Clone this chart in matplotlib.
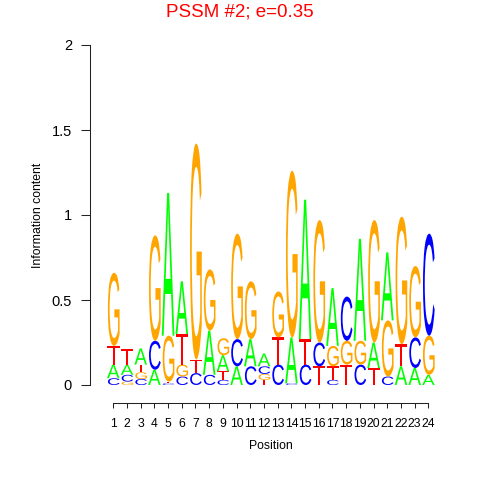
import matplotlib
matplotlib.use("Agg")
import matplotlib.pyplot as plt
from matplotlib.textpath import TextPath
from matplotlib.patches import PathPatch
from matplotlib.font_manager import FontProperties
from matplotlib.path import Path
import numpy as np

positions = list(range(1, 25))
A = [0.08, 0.06, 0.095, 0.09, 0.84, 0.31, 0.0, 0.26, 0.095, 0.11, 0.16, 0.075,
     0.0, 0.27, 0.82, 0.0, 0.34, 0.0, 0.60, 0.15, 0.40, 0.11, 0.10, 0.06]
C = [0.04, 0.04, 0.035, 0.17, 0.01, 0.05, 0.07, 0.06, 0.03, 0.16, 0.11, 0.045,
     0.12, 0.01, 0.12, 0.14, 0.03, 0.26, 0.12, 0.0, 0.05, 0.0, 0.18, 0.60]
G = [0.43, 0.02, 0.04, 0.62, 0.27, 0.07, 1.27, 0.36, 0.10, 0.62, 0.34, 0.035,
     0.27, 0.98, 0.0, 0.72, 0.12, 0.14, 0.14, 0.72, 0.33, 0.75, 0.42, 0.23]
T = [0.11, 0.09, 0.045, 0.0, 0.01, 0.18, 0.08, 0.0, 0.05, 0.0, 0.0, 0.03,
     0.16, 0.0, 0.15, 0.11, 0.08, 0.12, 0.0, 0.10, 0.0, 0.13, 0.0, 0.0]
yticks = [0, 0.5, 1, 1.5, 2]
ytick_labels = ["0", "0.5", "1", "1.5", "2"]
title = "PSSM #2; e=0.35"

colors = {"A": "#00FF00", "C": "#0000FF", "G": "#FFA500", "T": "#FF0000"}
heights = {"A": A, "C": C, "G": G, "T": T}

W = 480
fig = plt.figure(figsize=(4.8, 4.8), dpi=100)
ax = fig.add_axes([90 / W, 95 / W, 350 / W, 340 / W])
ax.set_xlim(-0.70, 24.85)
ax.set_ylim(0, 2)
for s in ["top", "right", "bottom"]:
    ax.spines[s].set_visible(False)
ax.spines["left"].set_linewidth(0.75)
ax.spines["left"].set_color("#222222")
ax.set_xticks([])
ax.set_yticks(yticks)
ax.set_yticklabels(ytick_labels, family="Liberation Sans")
ax.tick_params(axis="y", length=6.5, width=0.75, pad=6.5, labelsize=10.5, color="#222222")

fp = FontProperties(family="Liberation Sans", weight="normal")
glyphs = {}
for ch in "ACGT":
    tp = TextPath((0, 0), ch, size=1, prop=fp)
    v = tp.vertices
    glyphs[ch] = (tp, v[:, 0].min(), v[:, 0].max(), v[:, 1].min(), v[:, 1].max())

lw = 0.92
for i, p in enumerate(positions):
    items = sorted([(heights[ch][i], ch) for ch in "ACGT" if heights[ch][i] > 0])
    y0 = 0.0
    for h, ch in items:
        tp, x0g, x1g, y0g, y1g = glyphs[ch]
        v = tp.vertices.copy()
        v[:, 0] = (v[:, 0] - x0g) / (x1g - x0g) * lw + (p - lw / 2)
        v[:, 1] = (v[:, 1] - y0g) / (y1g - y0g) * h + y0
        path = Path(v, tp.codes)
        ax.add_patch(PathPatch(path, facecolor=colors[ch], edgecolor="none", clip_on=False))
        y0 += h

# x axis below
ax2 = fig.add_axes([90 / W, (480 - 403) / W, 350 / W, 0.5 / W])
ax2.set_xlim(-0.70, 24.85)
ax2.patch.set_visible(False)
for s in ["top", "right", "left"]:
    ax2.spines[s].set_visible(False)
ax2.spines["bottom"].set_bounds(1, 24)
ax2.spines["bottom"].set_linewidth(0.75)
ax2.spines["bottom"].set_color("#222222")
ax2.set_yticks([])
ax2.set_xticks(positions)
ax2.set_xticklabels([str(p) for p in positions], family="Liberation Sans")
ax2.tick_params(axis="x", direction="out", length=3.6, width=0.75, pad=7.5,
                labelsize=8.7, color="#222222")

fig.text(270.8 / W, (480 - 449) / W, "Position", ha="center", va="baseline",
         fontsize=8.8, family="Liberation Sans")
fig.text(38 / W, (480 - 215) / W, "Information content", ha="center", va="center",
         rotation=90, fontsize=8.8, family="Liberation Sans")
fig.text(0.5, (480 - 12) / W, title, ha="center", va="center", color="#FF0000",
         fontsize=13.5, family="Liberation Sans")

fig.savefig("out.png", dpi=100)
